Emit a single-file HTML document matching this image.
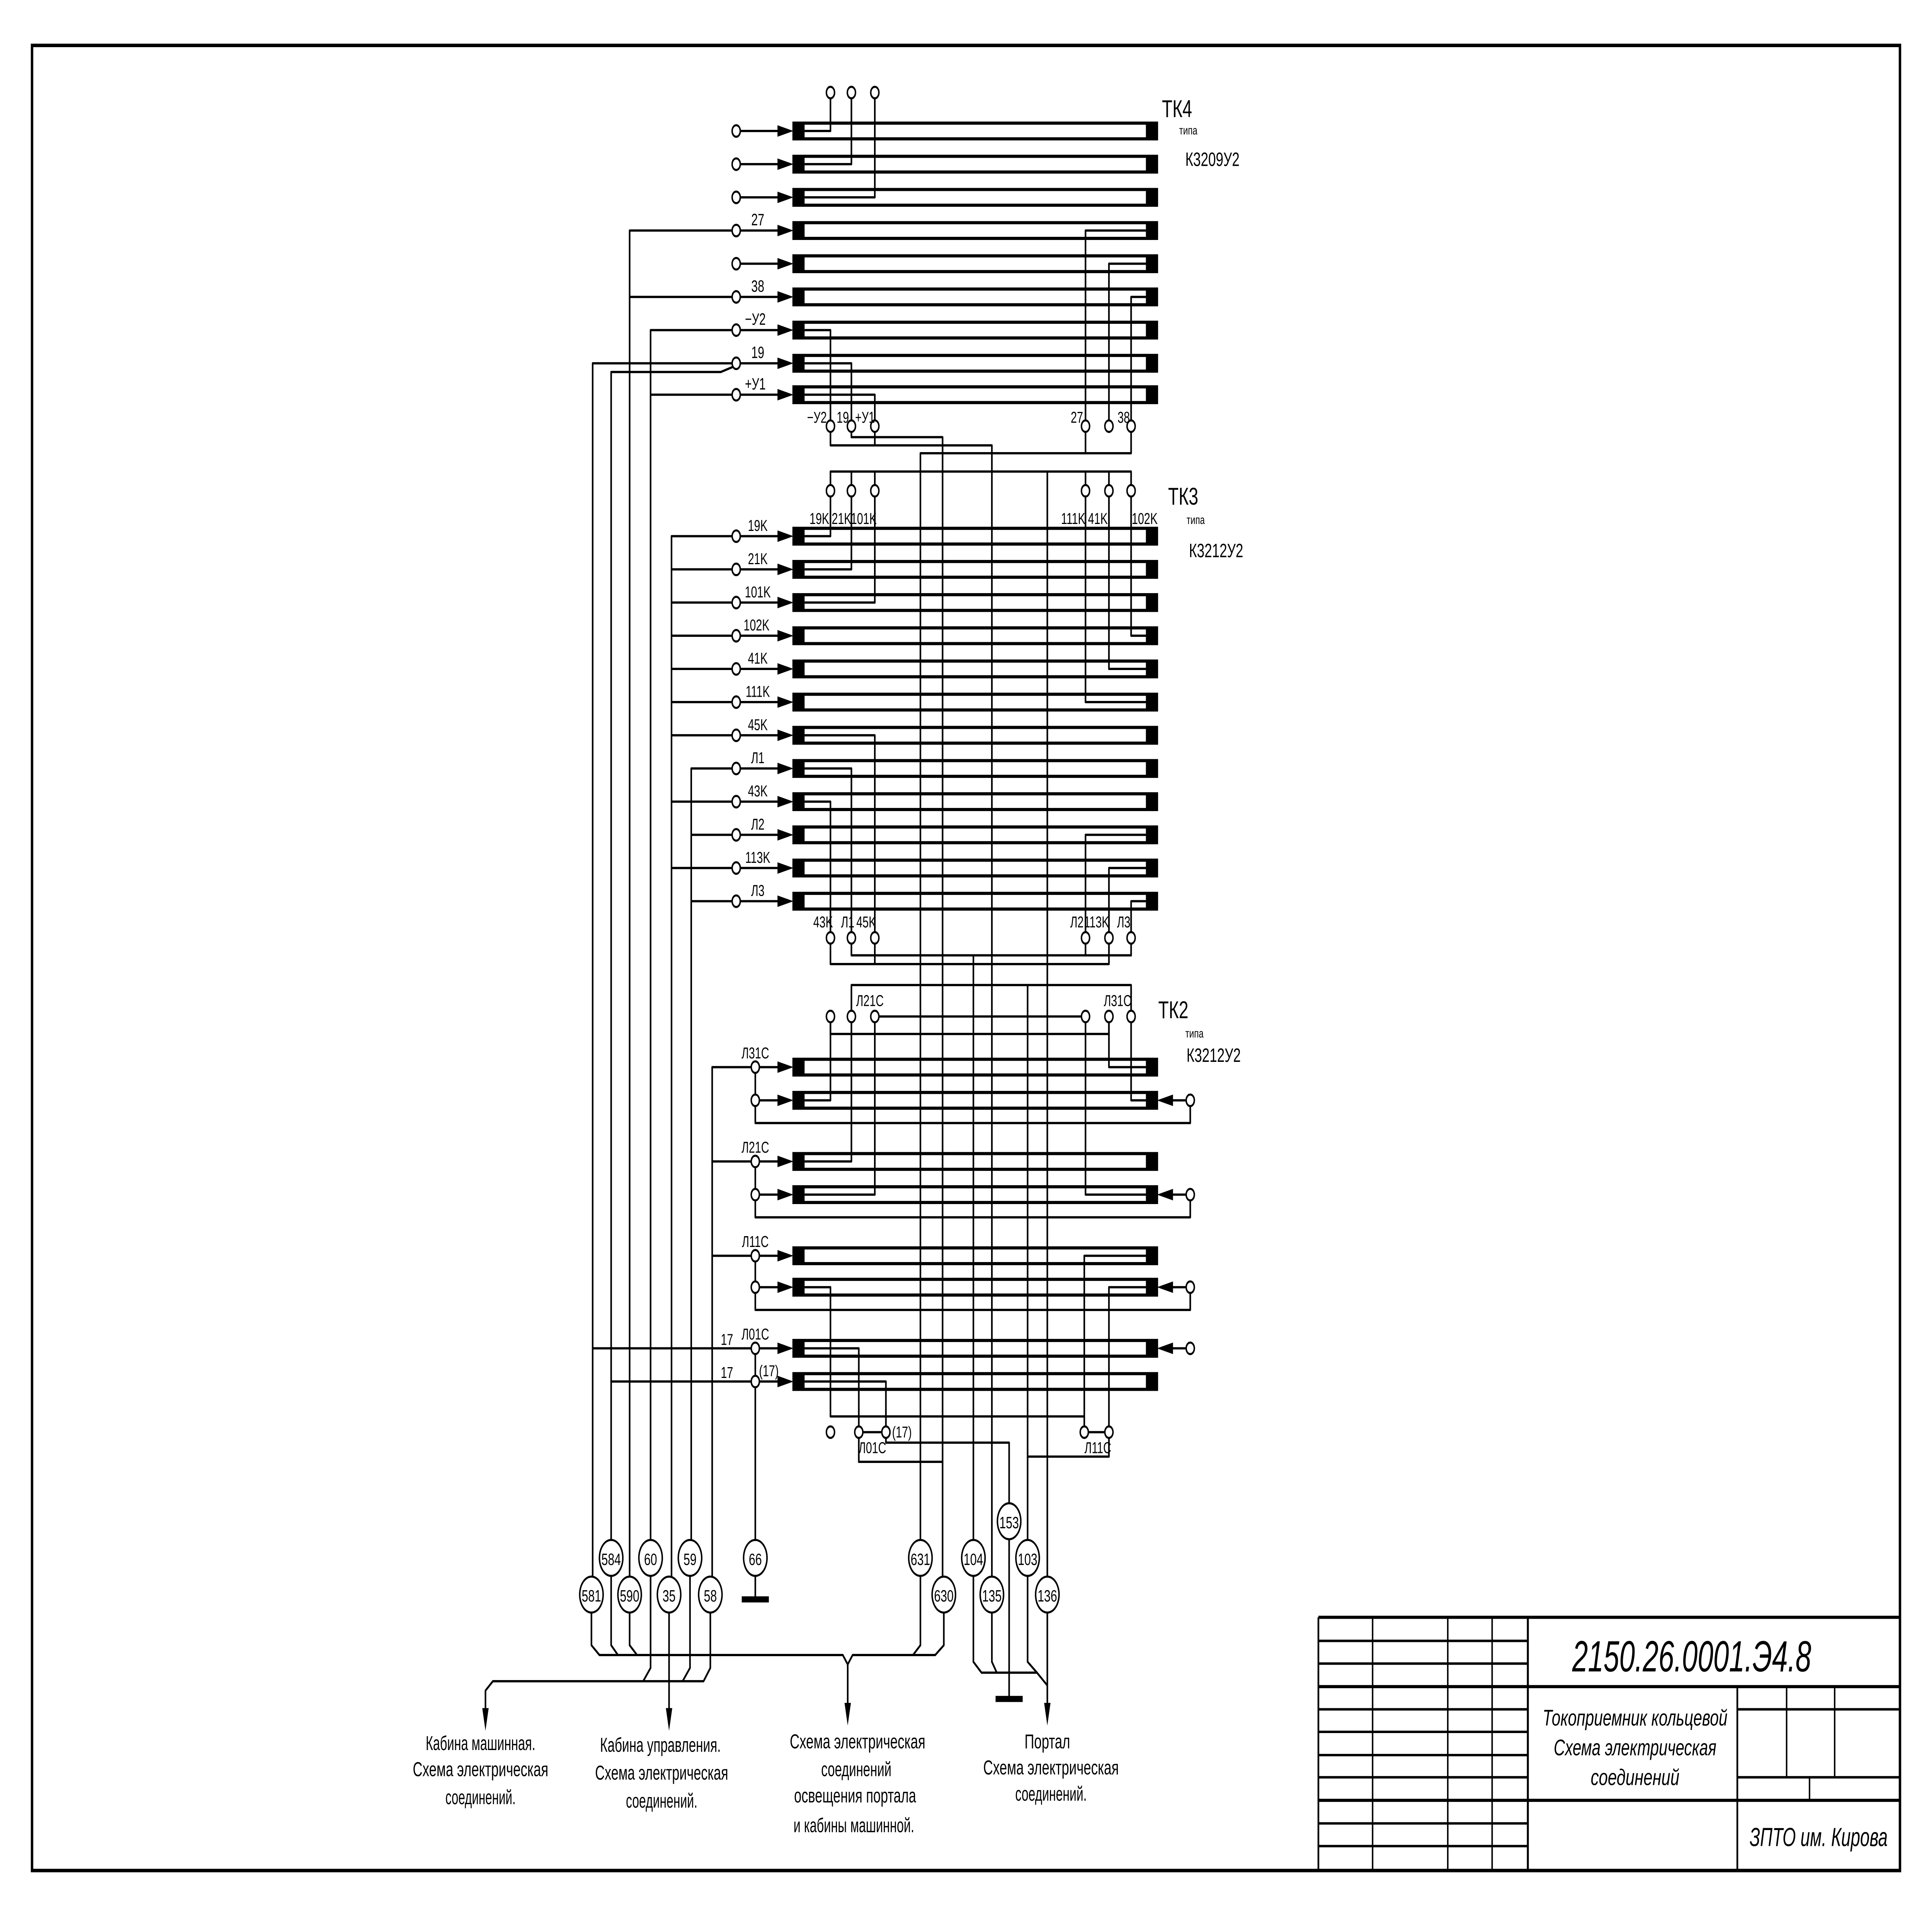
<!DOCTYPE html>
<html><head><meta charset="utf-8"><style>
html,body{margin:0;padding:0;background:#fff;width:100%;height:100%;overflow:hidden;}
svg{display:block;position:absolute;left:0;top:0;width:100vw;height:100vh;}
text{font-family:"Liberation Sans Narrow","Liberation Sans","DejaVu Sans",sans-serif;fill:#000;}
</style></head><body>
<svg id="s" xmlns="http://www.w3.org/2000/svg" viewBox="0 0 1568 1097.6" preserveAspectRatio="none">
<rect x="0" y="0" width="1568" height="1097.6" fill="#fff"/>
<g id="bars"></g>
<g id="wires" fill="none" stroke="#000" stroke-width="1.3" stroke-linejoin="round"></g>
<g id="tops"></g>
<g id="txt" font-size="9.5" text-anchor="middle">
<text x="943" y="67" font-size="14" text-anchor="start">ТК4</text>
<text x="957" y="77" font-size="7" text-anchor="start">типа</text>
<text x="962" y="95" font-size="11" text-anchor="start">К3209У2</text>
<text x="948" y="289" font-size="14" text-anchor="start">ТК3</text>
<text x="963" y="300" font-size="7" text-anchor="start">типа</text>
<text x="965" y="319" font-size="11" text-anchor="start">К3212У2</text>
<text x="940" y="583" font-size="14" text-anchor="start">ТК2</text>
<text x="962" y="594" font-size="7" text-anchor="start">типа</text>
<text x="963" y="608" font-size="11" text-anchor="start">К3212У2</text>
<text x="615" y="129">27</text>
<text x="615" y="167">38</text>
<text x="613" y="186">−У2</text>
<text x="615" y="205">19</text>
<text x="613" y="223">+У1</text>
<text x="663" y="242" font-size="9">−У2</text>
<text x="684" y="242" font-size="9">19</text>
<text x="702" y="242" font-size="9">+У1</text>
<text x="874" y="242" font-size="9">27</text>
<text x="912" y="242" font-size="9">38</text>
<text x="665" y="300" font-size="9">19K</text>
<text x="683" y="300" font-size="9">21K</text>
<text x="701" y="300" font-size="9">101K</text>
<text x="871" y="300" font-size="9">111K</text>
<text x="891" y="300" font-size="9">41K</text>
<text x="929" y="300" font-size="9">102K</text>
<text x="615" y="304" font-size="9">19K</text>
<text x="615" y="323" font-size="9">21K</text>
<text x="615" y="342" font-size="9">101K</text>
<text x="614" y="361" font-size="9">102K</text>
<text x="615" y="380" font-size="9">41K</text>
<text x="615" y="399" font-size="9">111K</text>
<text x="615" y="418" font-size="9">45K</text>
<text x="615" y="437" font-size="9">Л1</text>
<text x="615" y="456" font-size="9">43K</text>
<text x="615" y="475" font-size="9">Л2</text>
<text x="615" y="494" font-size="9">113K</text>
<text x="615" y="513" font-size="9">Л3</text>
<text x="668" y="531" font-size="9">43K</text>
<text x="688" y="531" font-size="9">Л1</text>
<text x="703" y="531" font-size="9">45K</text>
<text x="874" y="531" font-size="9">Л2</text>
<text x="890" y="531" font-size="9">113K</text>
<text x="912" y="531" font-size="9">Л3</text>
<text x="706" y="576" font-size="9">Л21С</text>
<text x="907" y="576" font-size="9">Л31С</text>
<text x="613" y="606" font-size="9">Л31С</text>
<text x="613" y="660" font-size="9">Л21С</text>
<text x="613" y="714" font-size="9">Л11С</text>
<text x="613" y="767" font-size="9">Л01С</text>
<text x="616" y="788" font-size="9" text-anchor="start">(17)</text>
<text x="590" y="770" font-size="9">17</text>
<text x="590" y="789" font-size="9">17</text>
<text x="708" y="832" font-size="9">Л01С</text>
<text x="724" y="823" font-size="9" text-anchor="start">(17)</text>
<text x="891" y="832" font-size="9">Л11С</text>
<g font-size="11.5">
<text x="390" y="1002" textLength="89" lengthAdjust="spacingAndGlyphs">Кабина машинная.</text>
<text x="390" y="1017" textLength="110" lengthAdjust="spacingAndGlyphs">Схема электрическая</text>
<text x="390" y="1033" textLength="57" lengthAdjust="spacingAndGlyphs">соединений.</text>
<text x="536" y="1003" textLength="98" lengthAdjust="spacingAndGlyphs">Кабина управления.</text>
<text x="537" y="1019" textLength="108" lengthAdjust="spacingAndGlyphs">Схема электрическая</text>
<text x="537" y="1035" textLength="58" lengthAdjust="spacingAndGlyphs">соединений.</text>
<text x="696" y="1001" textLength="110" lengthAdjust="spacingAndGlyphs">Схема электрическая</text>
<text x="695" y="1017" textLength="57" lengthAdjust="spacingAndGlyphs">соединений</text>
<text x="694" y="1032" textLength="99" lengthAdjust="spacingAndGlyphs">освещения портала</text>
<text x="693" y="1049" textLength="98" lengthAdjust="spacingAndGlyphs">и кабины машинной.</text>
<text x="850" y="1001" textLength="37" lengthAdjust="spacingAndGlyphs">Портал</text>
<text x="853" y="1016" textLength="110" lengthAdjust="spacingAndGlyphs">Схема электрическая</text>
<text x="853" y="1031" textLength="58" lengthAdjust="spacingAndGlyphs">соединений.</text>
</g>
<text x="1373" y="957" font-size="25" font-style="italic" textLength="194" lengthAdjust="spacingAndGlyphs">2150.26.0001.Э4.8</text>
<text x="1327" y="988" font-size="13" font-style="italic" textLength="150" lengthAdjust="spacingAndGlyphs">Токоприемник кольцевой</text>
<text x="1327" y="1005" font-size="13" font-style="italic" textLength="132" lengthAdjust="spacingAndGlyphs">Схема электрическая</text>
<text x="1327" y="1022" font-size="13" font-style="italic" textLength="72" lengthAdjust="spacingAndGlyphs">соединений</text>
<text x="1476" y="1057" font-size="15" font-style="italic" textLength="112" lengthAdjust="spacingAndGlyphs">ЗПТО им. Кирова</text>
</g>
<g id="bub" font-size="9.5" text-anchor="middle"></g>
<g id="bubtxt" font-size="9.5" text-anchor="middle">
<text x="480" y="917">581</text><text x="496" y="896">584</text><text x="511" y="917">590</text>
<text x="528" y="896">60</text><text x="543" y="917">35</text><text x="560" y="896">59</text>
<text x="576.5" y="917">58</text><text x="613" y="896">66</text>
<text x="747" y="896">631</text><text x="766" y="917">630</text><text x="790" y="896">104</text>
<text x="805" y="917">135</text><text x="819" y="875">153</text><text x="834" y="896">103</text>
<text x="850" y="917">136</text>
</g>
</svg>
<script>
(function(){
var NS="http://www.w3.org/2000/svg";
var bars=document.getElementById('bars'),W=document.getElementById('wires'),T=document.getElementById('tops'),B=document.getElementById('bub');
function el(p,tag,a){var e=document.createElementNS(NS,tag);for(var k in a)e.setAttribute(k,a[k]);p.appendChild(e);return e;}
function L(pts,w){el(W,'polyline',{points:pts.map(function(p){return p[0]+','+p[1];}).join(' '),'stroke-width':w||1.3});}
var R=3.3;
function C(x,y){el(T,'ellipse',{cx:x,cy:y,rx:R,ry:R,fill:'#fff',stroke:'#000','stroke-width':1.2});}
function bar(y){
 el(bars,'rect',{x:644,y:y-4.5,width:295,height:9,fill:'#fff',stroke:'#000','stroke-width':1.8});
 el(bars,'rect',{x:644,y:y-4.5,width:9,height:9,fill:'#000'});
 el(bars,'rect',{x:930,y:y-4.5,width:9,height:9,fill:'#000'});
}
function arrR(x,y){el(T,'polygon',{points:(x-13)+','+(y-3.3)+' '+x+','+y+' '+(x-13)+','+(y+3.3),fill:'#000'});}
function arrL(x,y){el(T,'polygon',{points:(x+13)+','+(y-3.3)+' '+x+','+y+' '+(x+13)+','+(y+3.3),fill:'#000'});}
function arrD(x,y){el(T,'polygon',{points:(x-2.6)+','+(y-13)+' '+x+','+y+' '+(x+2.6)+','+(y-13),fill:'#000'});}
function inL(xc,y){L([[xc+R,y],[632,y]]);arrR(644,y);C(xc,y);}
function inR(y){L([[966-R,y],[951,y]]);arrL(939,y);C(966,y);}
el(bars,'rect',{x:26,y:26,width:1516,height:1045,fill:'none',stroke:'#000','stroke-width':2});
var r4=[75,94,113,132,151,170,189,208,226];
r4.forEach(function(y){bar(y);inL(597.5,y);});
[[75,674],[94,691],[113,710]].forEach(function(a){L([[653,a[0]],[a[1],a[0]],[a[1],53+R]]);C(a[1],53);});
[[189,674],[208,691],[226,710]].forEach(function(a){L([[653,a[0]],[a[1],a[0]],[a[1],244-R]]);});
[[132,881],[151,900],[170,918]].forEach(function(a){L([[930,a[0]],[a[1],a[0]],[a[1],244-R]]);});
[674,691,710,881,900,918].forEach(function(x){C(x,244);});
L([[594,132],[511,132],[511,903]]);L([[594,170],[511,170]]);
L([[594,189],[528,189],[528,882]]);L([[594,226],[528,226]]);
L([[594,208],[481,208],[481,903]]);
L([[595,210],[585,213],[496,213],[496,882]]);
L([[691,247.3],[691,250.3],[765,250.3],[765,903]]);
L([[674,247.3],[674,255],[805,255],[805,903]]);L([[710,247.3],[710,255]]);
L([[881,247.3],[881,259.5],[747,259.5],[747,882]]);L([[918,247.3],[918,259.5],[881,259.5]]);
var r3=[307,326,345,364,383,402,421,440,459,478,497,516];
r3.forEach(function(y){bar(y);inL(597.5,y);});
L([[674,281],[674,270],[918,270],[918,281]]);
[691,710,881,900].forEach(function(x){L([[x,270],[x,281]]);});
L([[850,270],[850,903]]);
[674,691,710,881,900,918].forEach(function(x){C(x,281);});
[[307,674],[326,691],[345,710]].forEach(function(a){L([[653,a[0]],[a[1],a[0]],[a[1],281+R]]);});
[[364,918],[383,900],[402,881]].forEach(function(a){L([[930,a[0]],[a[1],a[0]],[a[1],281+R]]);});
[[421,710],[440,691],[459,674]].forEach(function(a){L([[653,a[0]],[a[1],a[0]],[a[1],537-R]]);});
[[478,881],[497,900],[516,918]].forEach(function(a){L([[930,a[0]],[a[1],a[0]],[a[1],537-R]]);});
[674,691,710,881,900,918].forEach(function(x){C(x,537);});
L([[691,540.3],[691,547],[918,547],[918,540.3]]);L([[881,540.3],[881,547]]);
L([[790,547],[790,882]]);
L([[674,540.3],[674,552],[900,552],[900,540.3]]);L([[710,540.3],[710,552]]);
L([[594,307],[545,307],[545,903]]);
[326,345,364,383,402,421,459,497].forEach(function(y){L([[594,y],[545,y]]);});
L([[594,440],[561,440],[561,882]]);
[478,516].forEach(function(y){L([[594,y],[561,y]]);});
L([[691,582-R],[691,564],[918,564],[918,582-R]]);
L([[834,564],[834,882]]);
L([[710+R,582],[881-R,582]]);
L([[674,582+R],[674,592],[900,592],[900,582+R]]);
var r2=[611,630,665,684,719,737,772,791];
r2.forEach(function(y){bar(y);inL(613,y);});
[[611,630,643],[665,684,697],[719,737,750]].forEach(function(a){var y1=a[0],y2=a[1],lp=a[2];
 L([[613,y1+R],[613,y2-R]]);L([[613,y2+R],[613,lp],[966,lp],[966,y2+R]]);});
L([[613,772+R],[613,791-R]]);L([[613,791+R],[613,882]]);
[630,684,737,772].forEach(function(y){inR(y);});
L([[613-R,611],[578,611],[578,903]]);L([[613-R,665],[578,665]]);L([[613-R,719],[578,719]]);
L([[613-R,772],[481,772]]);L([[613-R,791],[496,791]]);
L([[930,611],[900,611],[900,582+R]]);
L([[653,630],[674,630],[674,582+R]]);L([[930,630],[918,630],[918,582+R]]);
L([[653,665],[691,665],[691,582+R]]);
L([[653,684],[710,684],[710,582+R]]);L([[930,684],[881,684],[881,582+R]]);
[674,691,710,881,900,918].forEach(function(x){C(x,582);});
L([[930,719],[880,719],[880,820-R]]);
L([[653,737],[674,737],[674,811],[880,811]]);
L([[930,737],[900,737],[900,820-R]]);
L([[653,772],[697,772],[697,820-R]]);
L([[653,791],[719,791],[719,820-R]]);
L([[697+R,820],[719-R,820]]);L([[880+R,820],[900-R,820]]);
L([[697,820+R],[697,837],[765,837]]);
L([[719,820+R],[719,826],[819,826],[819,861]]);
L([[900,820+R],[900,834],[834,834]]);
[674,697,719,880,900].forEach(function(x){C(x,820);});
[[480,913],[496,892],[511,913],[528,892],[543,913],[560,892],[576.5,913],[613,892],[747,892],[766,913],[790,892],[805,913],[819,871],[834,892],[850,913]].forEach(function(b){
 el(B,'ellipse',{cx:b[0],cy:b[1],rx:9.5,ry:10.3,fill:'#fff',stroke:'#000','stroke-width':1.2});});
L([[613,902],[613,915]]);el(T,'rect',{x:602,y:914,width:22,height:3.5,fill:'#000'});
L([[819,881],[819,972]]);el(T,'rect',{x:808,y:971,width:22,height:3.5,fill:'#000'});
L([[480,923],[480,942],[486.5,947.6],[684,947.6],[688,953],[692,947.6],[759,947.6],[766,942],[766,923]]);
L([[496,902],[496,942],[501.5,947.6]]);L([[511,923],[511,942],[517,947.6]]);
L([[747,902],[747,942],[741,947.6]]);
L([[688,953],[688,978]]);arrD(688,988);
L([[576.5,923],[576.5,955],[571,962.6],[400,962.6],[394,968],[394,980]]);arrD(394,991);
L([[528,902],[528,955],[522,962.6]]);L([[560,902],[560,955],[554,962.6]]);
L([[543,923],[543,980]]);arrD(543,991);
L([[790,902],[790,951.5],[796.6,957.7],[841.6,957.7],[850,965]]);
L([[805,923],[805,951.5],[809,957.7]]);L([[834,902],[834,951.5],[841.6,957.7]]);
L([[850,923],[850,978]]);arrD(850,988);
function TL(x1,y1,x2,y2,w){el(bars,'line',{x1:x1,y1:y1,x2:x2,y2:y2,stroke:'#000','stroke-width':w||1.4});}
TL(1070,926,1542,926,1.8);TL(1070,926,1070,1071,1.4);
[1114,1175,1211].forEach(function(x){TL(x,926,x,1071,1.2);});
TL(1240,926,1240,1071,1.6);
[939.5,952.5,978.7,991.6,1004.9,1017.6,1044,1057].forEach(function(y){TL(1070,y,1240,y,1.4);});
TL(1070,965.7,1542,965.7,1.8);TL(1070,1030.8,1542,1030.8,1.8);
TL(1410,965.7,1410,1071,1.4);
TL(1450,965.7,1450,1017.6,1.2);TL(1489,965.7,1489,1017.6,1.2);
TL(1410,978.7,1542,978.7,1.4);TL(1410,1017.6,1542,1017.6,1.4);
TL(1468.6,1017.6,1468.6,1030.8,1.2);
})();
</script>
</body></html>
